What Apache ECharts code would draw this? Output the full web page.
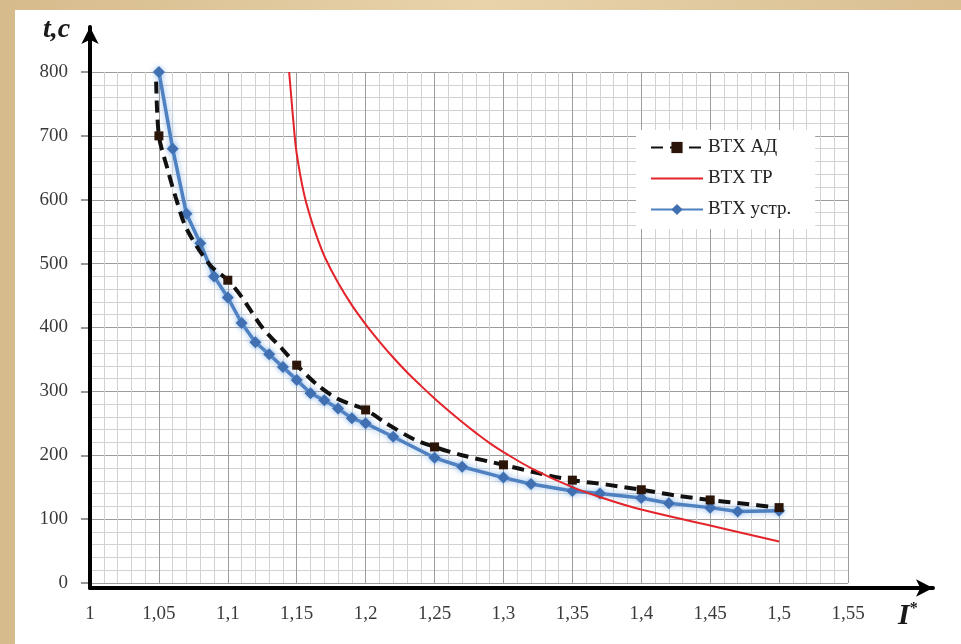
<!DOCTYPE html>
<html><head><meta charset="utf-8">
<script src="https://cdn.jsdelivr.net/npm/echarts@6/dist/echarts.min.js"></script>
<style>
html,body{margin:0;padding:0;}
body{background:#dcc296;}
#chart{width:961px;height:644px;background:linear-gradient(#fff,#fff) 15px 10px/100% 100% no-repeat, linear-gradient(90deg,#d6bb8c,#e8d3ab 50%,#d9bf92);}
</style></head><body><div id="chart"></div>
<script>
// ---- data ----
const xTickLabels = ['1','1,05','1,1','1,15','1,2','1,25','1,3','1,35','1,4','1,45','1,5','1,55'];
const yTickLabels = ['0','100','200','300','400','500','600','700','800'];
const seriesNames = ['ВТХ АД','ВТХ ТР','ВТХ устр.'];

// ВТХ АД (black dashed)
const adX = [1.048,1.05,1.056,1.062,1.07,1.087,1.1,1.11,1.125,1.14,1.15,1.165,1.18,1.2,1.215,1.235,1.25,1.27,1.3,1.325,1.35,1.375,1.4,1.425,1.45,1.475,1.5];
const adY = [785,700,650,605,555,498,474,448,400,365,341,310,288,271,250,225,213,200,185,172,161,154,146,137,130,124,118];
const adMarkerX = [1.05,1.1,1.15,1.2,1.25,1.3,1.35,1.4,1.45,1.5];

// ВТХ ТР (red)
const trX = [1.1445,1.148,1.15,1.155,1.16,1.165,1.17,1.18,1.19,1.2,1.21,1.22,1.23,1.24,1.25,1.26,1.27,1.28,1.29,1.3,1.32,1.35,1.375,1.4,1.45,1.5];
const trY = [800,712,672,612,572,540,512,470,435,405,378,353,330,309,289,270,252,235,219,205,180,150,131,115,90,65];

// ВТХ устр. (blue, diamonds)
const usX = [1.05,1.06,1.07,1.08,1.09,1.1,1.11,1.12,1.13,1.14,1.15,1.16,1.17,1.18,1.19,1.2,1.22,1.25,1.27,1.3,1.32,1.35,1.37,1.4,1.42,1.45,1.47,1.5];
const usY = [800,680,578,532,480,447,407,377,358,338,318,297,286,273,258,250,229,196,182,165,155,144,140,133,125,118,112,113];

// ---- chart ----
const FONT = 'Liberation Serif';
const chart = echarts.init(document.getElementById('chart'), null, {renderer:'canvas'});

const adData = adX.map((x,i)=>({value:[x,adY[i]], symbol: adMarkerX.includes(x) ? 'rect' : 'none'}));
const trData = trX.map((x,i)=>[x,trY[i]]);
const usData = usX.map((x,i)=>[x,usY[i]]);

chart.setOption({
  backgroundColor: 'transparent',
  animation: false,
  title: [
    {text:'t,c', left:38, top:11, textStyle:{fontFamily:FONT, fontStyle:'italic', fontWeight:'bold', fontSize:28, color:'#1a1a1a'}},
    {text:'{i|I}{s|*}', left:893, top:596, textStyle:{rich:{
      i:{fontFamily:FONT, fontStyle:'italic', fontSize:30, color:'#1a1a1a'},
      s:{fontFamily:FONT, fontSize:16, color:'#1a1a1a', verticalAlign:'top'}
    }}}
  ],
  legend: {
    orient:'vertical', left:636, top:130, backgroundColor:'#fff',
    padding:[8,24,10,14], itemGap:12, itemWidth:52, itemHeight:14,
    textStyle:{fontFamily:FONT, fontSize:19, color:'#222'},
    data: [
      {name:seriesNames[0]},
      {name:seriesNames[1], itemStyle:{opacity:0}},
      {name:seriesNames[2]}
    ]
  },
  grid: [
    {left:90, right:113, top:72, bottom:61},
    {left:90, right:28, top:27, bottom:56}
  ],
  xAxis: [
    {type:'value', gridIndex:0, min:1, max:1.55, interval:0.05,
     axisLine:{show:false}, axisTick:{show:false},
     axisLabel:{margin:22, fontFamily:FONT, fontSize:19, color:'#3a3a3a',
       formatter:(v)=>xTickLabels[Math.round((v-1)/0.05)]},
     splitLine:{show:true, lineStyle:{color:'#9c9c9c', width:1}},
     minorTick:{show:false, splitNumber:5},
     minorSplitLine:{show:true, lineStyle:{color:'#d2d2d2', width:1}}},
    {type:'value', gridIndex:1, min:0, max:1, z:5,
     axisLine:{show:true, onZero:false, symbol:['none','arrow'], symbolSize:[13,17], lineStyle:{color:'#000', width:4}},
     axisTick:{show:false}, axisLabel:{show:false}, splitLine:{show:false}}
  ],
  yAxis: [
    {type:'value', gridIndex:0, min:0, max:800, interval:100,
     axisLine:{show:false},
     axisTick:{show:true, length:9, lineStyle:{color:'#777', width:1.5}},
     axisLabel:{margin:22, fontFamily:FONT, fontSize:19, color:'#3a3a3a',
       formatter:(v)=>yTickLabels[Math.round(v/100)]},
     splitLine:{show:true, lineStyle:{color:'#9c9c9c', width:1}},
     minorTick:{show:false, splitNumber:5},
     minorSplitLine:{show:true, lineStyle:{color:'#d2d2d2', width:1}}},
    {type:'value', gridIndex:1, min:0, max:1, z:5,
     axisLine:{show:true, onZero:false, symbol:['none','arrow'], symbolSize:[13,17], lineStyle:{color:'#000', width:4}},
     axisTick:{show:false}, axisLabel:{show:false}, splitLine:{show:false}}
  ],
  series: [
    {name:seriesNames[0], type:'line', xAxisIndex:0, yAxisIndex:0, data:adData,
     smooth:0.3, symbol:'rect', symbolSize:9, showSymbol:true, z:4,
     lineStyle:{color:'#111', width:4, type:[12,7]},
     itemStyle:{color:'#2a1508'}},
    {name:seriesNames[1], type:'line', xAxisIndex:0, yAxisIndex:0, data:trData,
     smooth:0.4, symbol:'none', z:5,
     lineStyle:{color:'#e3242b', width:2},
     itemStyle:{color:'#e3242b'}},
    {name:seriesNames[2], type:'line', xAxisIndex:0, yAxisIndex:0, data:usData,
     smooth:false, symbol:'diamond', symbolSize:12, z:3,
     lineStyle:{color:'#4f80c0', width:3.5, shadowColor:'rgba(110,165,230,0.7)', shadowBlur:6},
     itemStyle:{color:'#4070b2', shadowColor:'rgba(110,165,230,0.7)', shadowBlur:5}}
  ]
});
</script></body></html>
